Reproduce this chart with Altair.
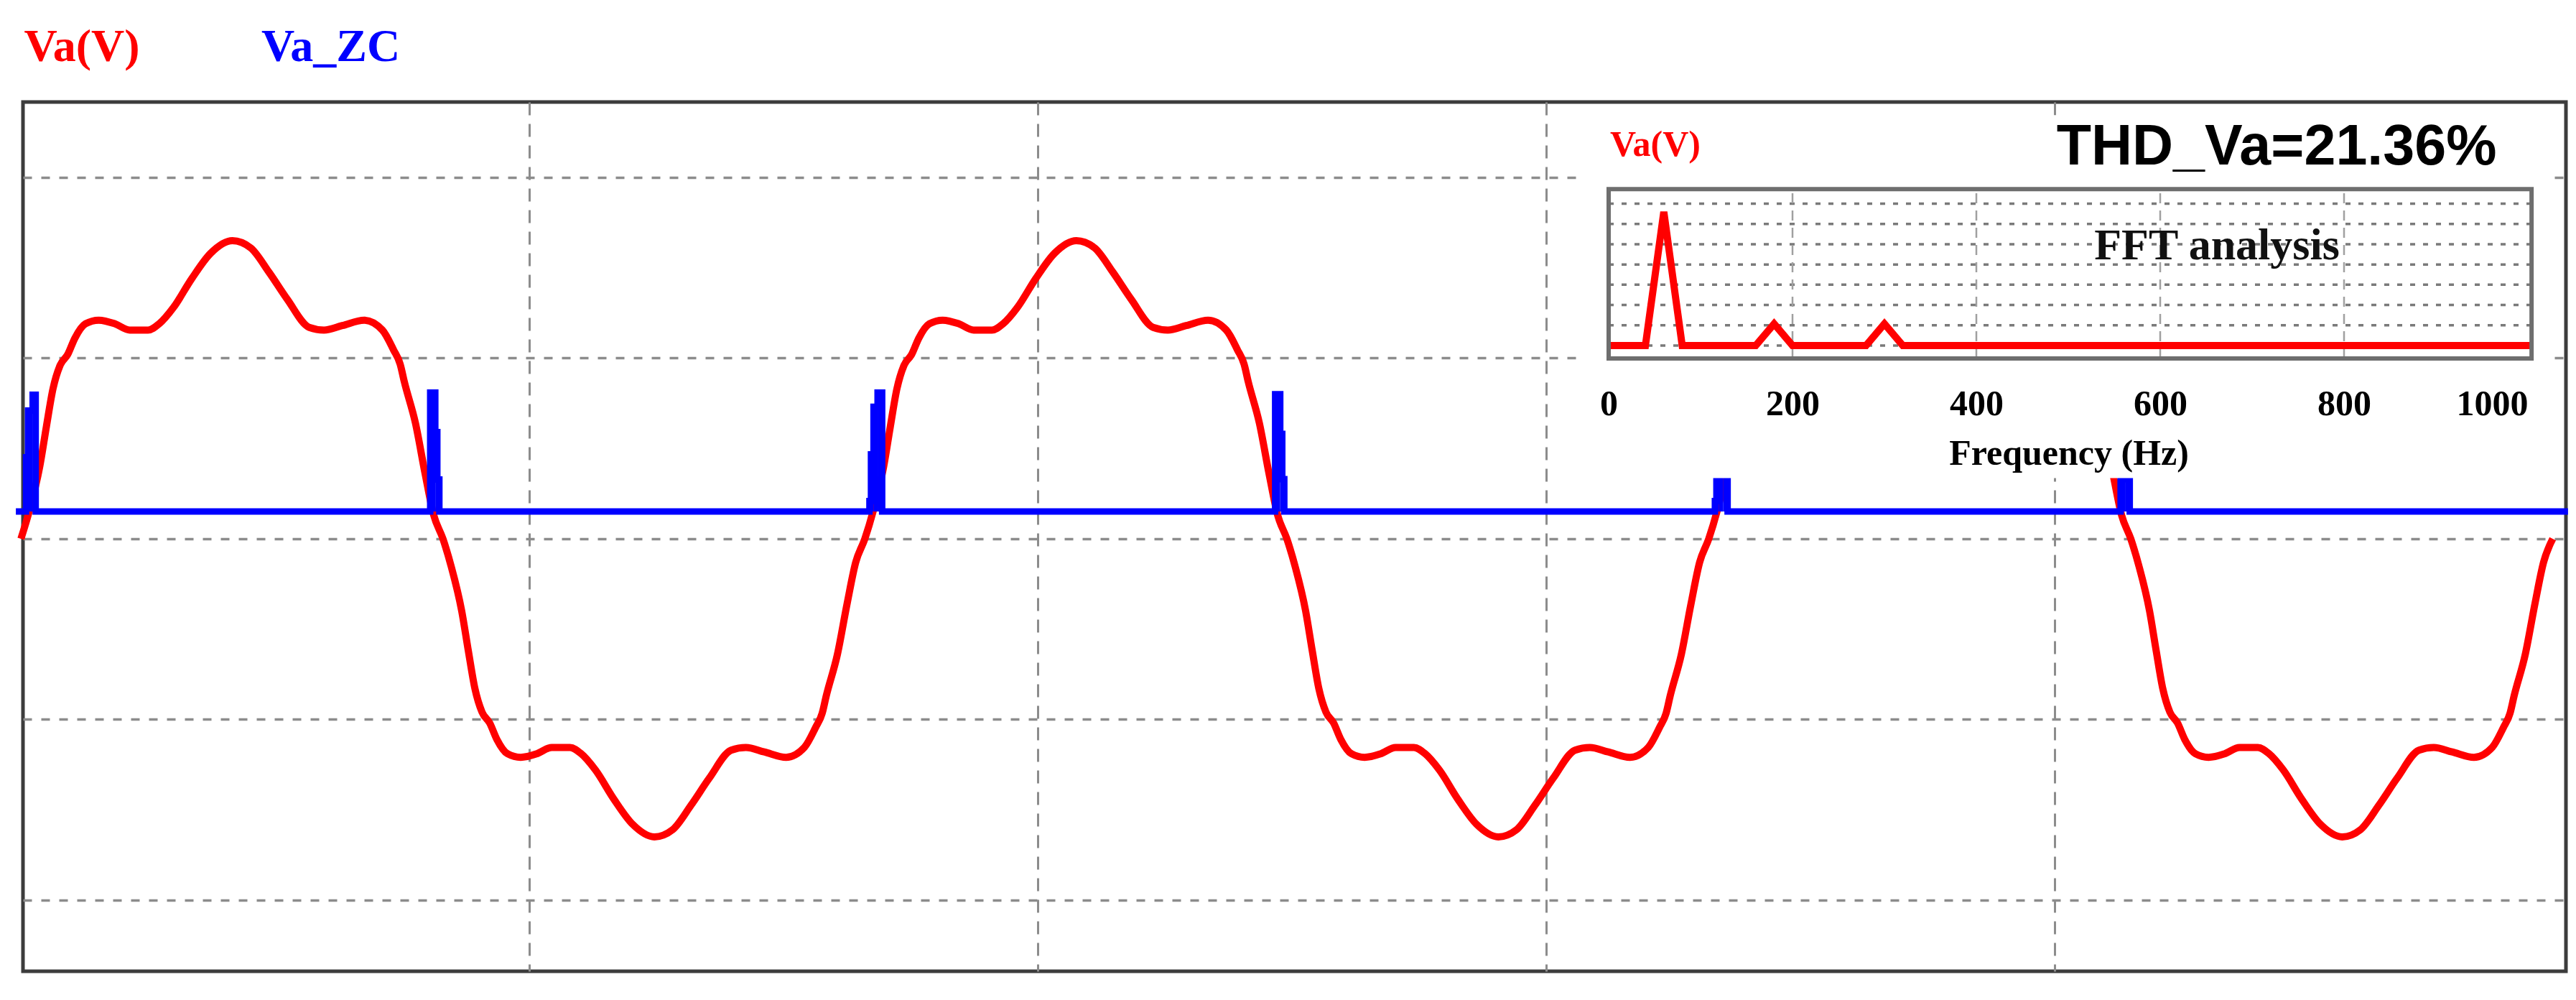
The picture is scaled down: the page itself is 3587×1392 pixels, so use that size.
import altair as alt
import pandas as pd

# ---------------- values ----------------
# Va(V): one positive half-cycle, time offset from its zero crossing (ms) and value (V)
half_cycle_offset_ms = [0.00, 0.16, 0.37, 0.50, 0.63, 0.77, 0.92, 1.06, 1.27, 1.53,
                        1.85, 2.14, 2.50, 2.72, 3.00, 3.36, 3.73, 4.16, 4.52, 4.88,
                        5.24, 5.67, 5.96, 6.32, 6.75, 7.11, 7.33, 7.46, 7.54, 7.76,
                        7.95, 8.12, 8.30]
half_cycle_va = [0, 15, 40, 62, 83, 96, 102, 111, 119, 121,
                 119, 115.5, 115.5, 119, 128, 144, 158, 165, 161, 147.5,
                 132.5, 117, 115.5, 118, 121, 115.5, 104.5, 96.6, 87, 64,
                 36, 13, 0]
# zero crossings of the six visible half-cycles (ms) and their polarity
half_cycle_start_ms = [0.0, 8.3, 16.6, 24.9, 33.2, 41.5]
half_cycle_sign = [1, -1, 1, -1, 1, -1]

# Va_ZC: zero-crossing detector output, step samples (ms, value on the same axis)
zc_time_ms = [-0.10, 0.10, 0.14, 0.23, 0.29,
              8.05, 8.15, 8.19, 8.23,
              16.69, 16.72, 16.77, 16.85, 16.94,
              24.67, 24.77, 24.81, 24.85,
              33.32, 33.35, 33.40, 33.48, 33.57,
              41.30, 41.40, 41.44, 41.48,
              50.1]
zc_value = [15.1, 45.1, 71.0, 79.7, 15.1,
            80.9, 59.0, 32.8, 15.1,
            20.9, 46.7, 73.0, 80.9, 15.1,
            80.0, 58.0, 33.0, 15.1,
            20.9, 46.7, 73.0, 80.9, 15.1,
            80.0, 58.0, 33.0, 15.1,
            15.1]
zc_baseline = 15.1

# FFT analysis of Va(V)
fft_freq_hz = [0, 40, 60, 80, 160, 180, 200, 280, 300, 320, 1004]
fft_mag = [0, 0, 6.6, 0, 0, 1.07, 0, 0, 1.07, 0, 0]

main_grid_time = [10, 20, 30, 40]
main_grid_volt = [200, 100, 0, -100, -200]
fft_tick_values = [0, 200, 400, 600, 800, 1000]
fft_grid_freq = [200, 400, 600, 800]
fft_grid_level = [0, 1, 2, 3, 4, 5, 6, 7]

legend_labels = ["Va(V)", "Va_ZC"]
thd_label = "THD_Va=21.36%"

# ---------------- tables ----------------
rows = []
for start, sign in zip(half_cycle_start_ms, half_cycle_sign):
    for k, (off, v) in enumerate(zip(half_cycle_offset_ms, half_cycle_va)):
        if k == 0 and rows:
            continue
        rows.append((start + off, sign * v))
va_df = pd.DataFrame(rows, columns=["t", "v"])
zc_df = pd.DataFrame({"t": zc_time_ms, "v": zc_value})
# the raised steps of Va_ZC, one block per step
seg = []
for i in range(len(zc_time_ms) - 1):
    if zc_value[i] > zc_baseline:
        seg.append((zc_time_ms[i], zc_time_ms[i + 1], zc_value[i]))
zc_steps = pd.DataFrame(seg, columns=["t0", "t1", "v"])
fft_df = pd.DataFrame({"f": fft_freq_hz, "m": fft_mag})
fgrid_h = pd.DataFrame({"m": fft_grid_level})
fgrid_v = pd.DataFrame({"f": fft_grid_freq})

W, H = 3541, 1210
SERIF = "Liberation Serif"
RED = "#ff0000"
BLUE = "#0000ff"
GRID = "#8c8c8c"

# ---------------- main scope ----------------
t_scale = alt.Scale(domain=[0.04, 50.06], nice=False, zero=False)
v_scale = alt.Scale(domain=[-239.4, 241.75], nice=False, zero=False)
t_axis = alt.Axis(values=main_grid_time, grid=True, gridColor=GRID, gridDash=[18, 12],
                  gridWidth=3, labels=False, ticks=False, domain=False, title=None,
                  orient="bottom")
v_axis = alt.Axis(values=main_grid_volt, grid=True, gridColor=GRID, gridDash=[12, 13],
                  gridWidth=3.5, labels=False, ticks=False, domain=False, title=None,
                  orient="left")


def tx(field):
    return alt.X(field, type="quantitative", scale=t_scale, axis=t_axis)


def vy(field):
    return alt.Y(field, type="quantitative", scale=v_scale, axis=v_axis)


def txd(d):
    return alt.XDatum(d, type="quantitative", scale=t_scale, axis=t_axis)


def vyd(d):
    return alt.YDatum(d, type="quantitative", scale=v_scale, axis=v_axis)


red_line = alt.Chart(va_df).mark_line(color=RED, strokeWidth=10, strokeJoin="round",
                                      interpolate="monotone").encode(
    x=tx("t"), y=vy("v"))

zc_blocks = alt.Chart(zc_steps).mark_rect(color=BLUE, opacity=1).encode(
    x=tx("t0"), x2="t1", y=vy("v"), y2=alt.Y2Datum(zc_baseline))
zc_line = alt.Chart(zc_df).mark_line(color=BLUE, strokeWidth=9, interpolate="step-after").encode(
    x=tx("t"), y=vy("v"))

inset_box = alt.Chart().mark_rect(fill="white", stroke=None).encode(
    x=txd(30.71), x2=alt.X2Datum(49.76), y=vyd(33.6), y2=alt.Y2Datum(234.4))

leg1 = alt.Chart().mark_text(text=legend_labels[0], color=RED, font=SERIF, fontSize=64,
                             fontWeight="bold", align="left", baseline="alphabetic").encode(
    x=txd(0.06), y=vyd(264.4))
leg2 = alt.Chart().mark_text(text=legend_labels[1], color=BLUE, font=SERIF, fontSize=64,
                             fontWeight="bold", align="left", baseline="alphabetic").encode(
    x=txd(4.73), y=vyd(264.4))

main = alt.layer(red_line, zc_blocks, zc_line, inset_box, leg1, leg2)

# ---------------- FFT inset scope ----------------
f_scale = alt.Scale(domain=[-1725, 1041.4], nice=False, zero=False)
m_scale = alt.Scale(domain=[-30.89, 12.02], nice=False, zero=False)
f_axis = alt.Axis(orient="bottom", offset=-853, values=fft_tick_values, format="d", grid=False,
                  ticks=False, domain=False, title=None, labelFont=SERIF, labelFontSize=50,
                  labelFontWeight="bold", labelColor="#000000", labelPadding=78,
                  labelBaseline="alphabetic", labelOverlap=False, labelFlush=False,
                  labelAlign=alt.condition("datum.value == 1000", alt.value("right"),
                                           alt.value("center")),
                  zindex=1)


def fx(field):
    return alt.X(field, type="quantitative", scale=f_scale, axis=f_axis)


def my(field):
    return alt.Y(field, type="quantitative", scale=m_scale, axis=None)


def fxd(d):
    return alt.XDatum(d, type="quantitative", scale=f_scale, axis=f_axis)


def myd(d):
    return alt.YDatum(d, type="quantitative", scale=m_scale, axis=None)


grid_h = alt.Chart(fgrid_h).mark_rule(color="#7a7a7a", strokeWidth=3.5, strokeDash=[7, 11]).encode(
    y=my("m"), x=fxd(0), x2=alt.X2Datum(1004))
grid_v = alt.Chart(fgrid_v).mark_rule(color="#a0a0a0", strokeWidth=2.5, strokeDash=[14, 10]).encode(
    x=fx("f"), y=myd(-0.64), y2=alt.Y2Datum(7.72))

fft_line = alt.Chart(fft_df).mark_line(color=RED, strokeWidth=10, strokeJoin="miter").encode(
    x=fx("f"), y=my("m"))

frame = alt.Chart().mark_rect(fillOpacity=0, stroke="#6e6e6e", strokeWidth=6).encode(
    x=fxd(0), x2=alt.X2Datum(1004), y=myd(-0.64), y2=alt.Y2Datum(7.72))

fft_title = alt.Chart().mark_text(text="FFT analysis", font=SERIF, fontSize=62, fontWeight="bold",
                                  color="#111111", align="center", baseline="alphabetic").encode(
    x=fxd(661.7), y=myd(4.26))
inset_name = alt.Chart().mark_text(text=legend_labels[0], font=SERIF, fontSize=50, fontWeight="bold",
                                   color=RED, align="left", baseline="alphabetic").encode(
    x=fxd(1.6), y=myd(9.36))
thd = alt.Chart().mark_text(text=thd_label, font="Liberation Sans", fontSize=79,
                            fontWeight="bold", color="#000000", align="center",
                            baseline="alphabetic").encode(
    x=fxd(726.6), y=myd(8.94))
xtitle = alt.Chart().mark_text(text="Frequency (Hz)", font=SERIF, fontSize=50, fontWeight="bold",
                               color="#000000", align="center", baseline="alphabetic").encode(
    x=fxd(500.8), y=myd(-5.89))

inset = alt.layer(grid_h, grid_v, fft_line, frame, fft_title, inset_name, thd, xtitle)

chart = alt.layer(main, inset).resolve_scale(x="independent", y="independent").properties(
    width=W, height=H,
    padding={"left": 24, "top": 134, "right": 6, "bottom": 30},
    autosize=alt.AutoSizeParams(type="none"),
    background="white",
).configure_view(stroke="#3c3c3c", strokeWidth=5)

chart.save("out.html", embed_options={"renderer": "svg", "actions": False})
